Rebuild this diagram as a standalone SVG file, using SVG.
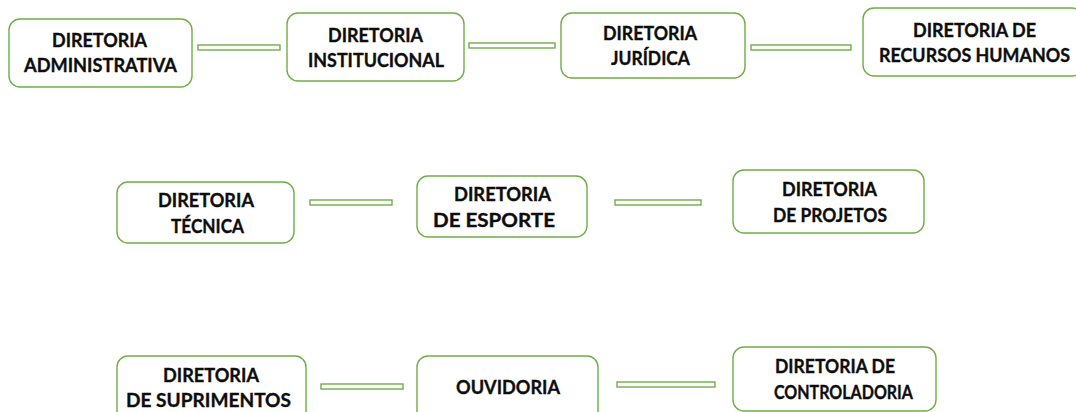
<svg xmlns="http://www.w3.org/2000/svg" width="1076" height="412" viewBox="0 0 1076 412">
<style>
.box{fill:#ffffff;stroke:#70ad47;stroke-width:1.4}
.conn{fill:#ffffff;stroke:#70ad47;stroke-width:1.4}
.t{font-family:Lato,"Open Sans","Liberation Sans",sans-serif;font-weight:700;font-size:19.5px;fill:#0d0d0d;stroke:#0d0d0d;stroke-width:0.35;text-anchor:middle}
</style>
<rect width="1076" height="412" fill="#ffffff"/>
<g id="connectors">
<rect class="conn" x="198" y="45" width="82" height="5"/>
<rect class="conn" x="469" y="43" width="86" height="5"/>
<rect class="conn" x="751" y="45" width="100" height="5"/>
<rect class="conn" x="310" y="200" width="82" height="5"/>
<rect class="conn" x="615" y="200" width="86" height="5"/>
<rect class="conn" x="321" y="384" width="82" height="5"/>
<rect class="conn" x="617" y="382" width="98" height="5"/>
</g>
<g id="n1">
<rect class="box" x="9" y="19" width="183" height="68" rx="11"/>
<text class="t" x="99.5" y="47" textLength="95" lengthAdjust="spacingAndGlyphs">DIRETORIA</text>
<text class="t" x="100.5" y="72" textLength="153" lengthAdjust="spacingAndGlyphs">ADMINISTRATIVA</text>
</g>
<g id="n2">
<rect class="box" x="287" y="13" width="177" height="68" rx="11"/>
<text class="t" x="375.5" y="42" textLength="95" lengthAdjust="spacingAndGlyphs">DIRETORIA</text>
<text class="t" x="376" y="67" textLength="136" lengthAdjust="spacingAndGlyphs">INSTITUCIONAL</text>
</g>
<g id="n3">
<rect class="box" x="561" y="13" width="184" height="65" rx="11"/>
<text class="t" x="650" y="40" textLength="94" lengthAdjust="spacingAndGlyphs">DIRETORIA</text>
<text class="t" x="650.5" y="65" textLength="79" lengthAdjust="spacingAndGlyphs">JURÍDICA</text>
</g>
<g id="n4">
<rect class="box" x="863" y="8" width="220" height="68" rx="11"/>
<text class="t" x="974.5" y="37" textLength="123" lengthAdjust="spacingAndGlyphs">DIRETORIA DE</text>
<text class="t" x="974.5" y="62" textLength="191" lengthAdjust="spacingAndGlyphs">RECURSOS HUMANOS</text>
</g>
<g id="n5">
<rect class="box" x="117" y="182" width="177" height="61" rx="11"/>
<text class="t" x="206" y="207" textLength="96" lengthAdjust="spacingAndGlyphs">DIRETORIA</text>
<text class="t" x="207.5" y="233" textLength="73" lengthAdjust="spacingAndGlyphs">TÉCNICA</text>
</g>
<g id="n6">
<rect class="box" x="417" y="176" width="170" height="61" rx="11"/>
<text class="t" x="502.5" y="201" textLength="97" lengthAdjust="spacingAndGlyphs">DIRETORIA</text>
<text class="t" x="494" y="227" textLength="122" lengthAdjust="spacingAndGlyphs">DE ESPORTE</text>
</g>
<g id="n7">
<rect class="box" x="733" y="170" width="191" height="63" rx="11"/>
<text class="t" x="829.5" y="196" textLength="95" lengthAdjust="spacingAndGlyphs">DIRETORIA</text>
<text class="t" x="830" y="222" textLength="114" lengthAdjust="spacingAndGlyphs">DE PROJETOS</text>
</g>
<g id="n8">
<rect class="box" x="117" y="356" width="189" height="70" rx="11"/>
<text class="t" x="211" y="382" textLength="96" lengthAdjust="spacingAndGlyphs">DIRETORIA</text>
<text class="t" x="208.5" y="407" textLength="165" lengthAdjust="spacingAndGlyphs">DE SUPRIMENTOS</text>
</g>
<g id="n9">
<rect class="box" x="417" y="356" width="181" height="70" rx="11"/>
<text class="t" x="508" y="394" textLength="104" lengthAdjust="spacingAndGlyphs">OUVIDORIA</text>
</g>
<g id="n10">
<rect class="box" x="733" y="347" width="203" height="64" rx="11"/>
<text class="t" x="835" y="373" textLength="120" lengthAdjust="spacingAndGlyphs">DIRETORIA DE</text>
<text class="t" x="843.5" y="399" textLength="139" lengthAdjust="spacingAndGlyphs">CONTROLADORIA</text>
</g>
</svg>
